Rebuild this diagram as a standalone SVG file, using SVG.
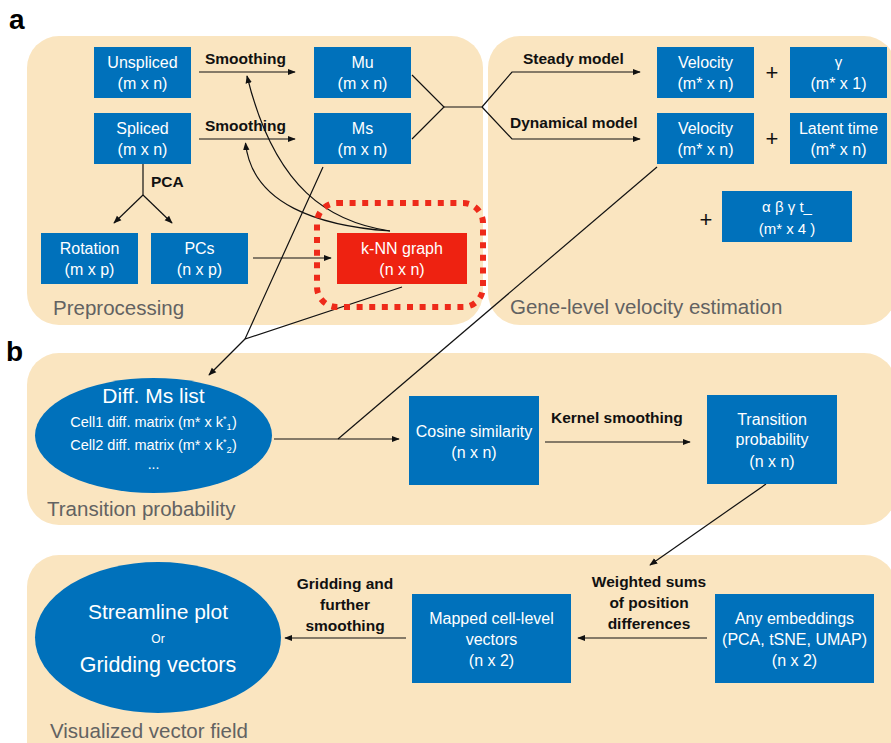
<svg xmlns="http://www.w3.org/2000/svg" width="891" height="743" viewBox="0 0 891 743">
<style>
.panel{fill:#FAE5C0;}
.box{fill:#0071BB;}
.bt{font-family:"Liberation Sans",Arial,sans-serif;font-size:16px;fill:#fff;text-anchor:middle;}
.lbl{font-family:"Liberation Sans",Arial,sans-serif;font-size:15.5px;font-weight:bold;fill:#111;}
.ptitle{font-family:"Liberation Sans",Arial,sans-serif;font-size:20.5px;fill:#626262;}
.big{font-family:"Liberation Sans",Arial,sans-serif;font-size:28px;font-weight:bold;fill:#000;}
.plus{font-family:"Liberation Sans",Arial,sans-serif;font-size:22px;fill:#111;text-anchor:middle;}
.ln{fill:none;stroke:#111;stroke-width:1.2;}
.arr{fill:none;stroke:#111;stroke-width:1.2;marker-end:url(#ah);}
</style>
<defs>
<marker id="ah" viewBox="0 0 10 10" refX="9" refY="5" markerWidth="8" markerHeight="8" markerUnits="userSpaceOnUse" orient="auto">
<path d="M0,1 L10,5 L0,9 Z" fill="#111"/>
</marker>
</defs>
<rect width="891" height="743" fill="#fff"/>

<!-- panels -->
<g id="panel-preprocessing">
<rect class="panel" x="27" y="36" width="456" height="289" rx="32"/>
<text class="ptitle" x="53" y="315">Preprocessing</text>
</g>
<g id="panel-gene">
<rect class="panel" x="488" y="36" width="408" height="289" rx="32"/>
<text class="ptitle" x="510" y="314">Gene-level velocity estimation</text>
</g>
<g id="panel-transition">
<rect class="panel" x="27" y="353" width="869" height="172" rx="32"/>
<text class="ptitle" x="47" y="516">Transition probability</text>
</g>
<g id="panel-visualized">
<rect class="panel" x="27" y="555" width="869" height="220" rx="32"/>
<text class="ptitle" x="50" y="738">Visualized vector field</text>
</g>
<text class="big" x="9" y="29">a</text>
<text class="big" x="6" y="361">b</text>

<!-- connectors -->
<g id="connectors">
<line class="arr" x1="199" y1="72" x2="295" y2="72"/>
<line class="arr" x1="199" y1="139" x2="295" y2="139"/>
<polyline class="ln" points="412,75 444,107 412,139"/>
<line class="ln" x1="444" y1="107" x2="482" y2="107"/>
<polyline class="arr" points="482,107 512,72 640,72"/>
<polyline class="arr" points="482,107 512,139 640,139"/>
<line class="ln" x1="143" y1="164" x2="143" y2="195"/>
<line class="arr" x1="143" y1="195" x2="114" y2="223"/>
<line class="arr" x1="143" y1="195" x2="172" y2="223"/>
<line class="arr" x1="253" y1="258" x2="331" y2="258"/>
<path class="arr" d="M390,231 C330,222 275,190 247,76"/>
<path class="arr" d="M390,231 C320,226 252,205 245.5,143"/>
<polyline class="ln" points="323,167 245,339 402,287"/>
<line class="arr" x1="245" y1="339" x2="209" y2="375"/>
<line class="arr" x1="274" y1="439" x2="399" y2="439"/>
<line class="ln" x1="657" y1="167" x2="338" y2="439"/>
<line class="arr" x1="545" y1="442" x2="690" y2="442"/>
<line class="arr" x1="766" y1="484" x2="650" y2="565"/>
<line class="arr" x1="707" y1="638" x2="578" y2="638"/>
<line class="arr" x1="406" y1="638" x2="285" y2="638"/>
</g>

<!-- edge labels -->
<g id="edge-labels">
<text class="lbl" x="205" y="64">Smoothing</text>
<text class="lbl" x="205" y="131">Smoothing</text>
<text class="lbl" x="151" y="187">PCA</text>
<text class="lbl" x="523" y="64">Steady model</text>
<text class="lbl" x="510" y="128">Dynamical model</text>
<text class="lbl" x="551" y="423">Kernel smoothing</text>
<text class="lbl" text-anchor="middle" x="649" y="587">Weighted sums</text>
<text class="lbl" text-anchor="middle" x="649" y="608">of position</text>
<text class="lbl" text-anchor="middle" x="649" y="629">differences</text>
<text class="lbl" text-anchor="middle" x="345" y="589">Gridding and</text>
<text class="lbl" text-anchor="middle" x="345" y="610">further</text>
<text class="lbl" text-anchor="middle" x="345" y="631">smoothing</text>
</g>

<!-- nodes -->
<g id="unspliced"><rect class="box" x="94" y="47" width="97" height="51"/>
<text class="bt" x="142.5" y="68">Unspliced</text><text class="bt" x="142.5" y="89">(m x n)</text></g>
<g id="spliced"><rect class="box" x="94" y="113" width="97" height="51"/>
<text class="bt" x="142.5" y="134">Spliced</text><text class="bt" x="142.5" y="155">(m x n)</text></g>
<g id="mu"><rect class="box" x="314" y="47" width="97" height="51"/>
<text class="bt" x="362.5" y="68">Mu</text><text class="bt" x="362.5" y="89">(m x n)</text></g>
<g id="ms"><rect class="box" x="314" y="113" width="97" height="51"/>
<text class="bt" x="362.5" y="134">Ms</text><text class="bt" x="362.5" y="155">(m x n)</text></g>
<g id="rotation"><rect class="box" x="41" y="233" width="97" height="51"/>
<text class="bt" x="89.5" y="254">Rotation</text><text class="bt" x="89.5" y="275">(m x p)</text></g>
<g id="pcs"><rect class="box" x="151" y="233" width="97" height="51"/>
<text class="bt" x="199.5" y="254">PCs</text><text class="bt" x="199.5" y="275">(n x p)</text></g>
<g id="knn">
<rect x="317" y="203" width="166" height="104" rx="20" fill="none" stroke="#EE2A1A" stroke-width="6" stroke-dasharray="6 6.6"/>
<rect x="337" y="233" width="130" height="51" fill="#EE2211"/>
<text class="bt" x="402" y="254">k-NN graph</text><text class="bt" x="402" y="275">(n x n)</text></g>
<g id="velocity1"><rect class="box" x="657" y="47" width="97" height="51"/>
<text class="bt" x="705.5" y="68">Velocity</text><text class="bt" x="705.5" y="89">(m* x n)</text></g>
<g id="gamma"><rect class="box" x="790" y="47" width="97" height="51"/>
<text class="bt" x="838.5" y="67" style="font-size:15px">γ</text><text class="bt" x="838.5" y="89">(m* x 1)</text></g>
<g id="velocity2"><rect class="box" x="657" y="113" width="97" height="51"/>
<text class="bt" x="705.5" y="134">Velocity</text><text class="bt" x="705.5" y="155">(m* x n)</text></g>
<g id="latent"><rect class="box" x="790" y="113" width="97" height="51"/>
<text class="bt" x="838.5" y="134">Latent time</text><text class="bt" x="838.5" y="155">(m* x n)</text></g>
<g id="params"><rect class="box" x="722" y="191" width="130" height="51"/>
<text class="bt" x="787" y="212" style="font-size:15px">α β γ t_</text><text class="bt" x="787" y="234" style="font-size:15px">(m* x 4 )</text></g>
<text class="plus" x="772" y="80">+</text>
<text class="plus" x="772" y="146">+</text>
<text class="plus" x="706" y="227">+</text>
<g id="diffms"><ellipse class="box" cx="153.5" cy="435.5" rx="118.5" ry="57.5"/>
<text class="bt" x="153.5" y="403" style="font-size:21px">Diff. Ms list</text>
<text class="bt" x="153.5" y="427" style="font-size:14.5px">Cell1 diff. matrix  (m* x k<tspan style="font-size:9px" dy="-5">*</tspan><tspan style="font-size:9.5px" dy="8">1</tspan><tspan dy="-3">)</tspan></text>
<text class="bt" x="153.5" y="450" style="font-size:14.5px">Cell2 diff. matrix  (m* x k<tspan style="font-size:9px" dy="-5">*</tspan><tspan style="font-size:9.5px" dy="8">2</tspan><tspan dy="-3">)</tspan></text>
<text class="bt" x="153.5" y="469" style="font-size:14px">...</text></g>
<g id="cosine"><rect class="box" x="409" y="396" width="130" height="89"/>
<text class="bt" x="474" y="437">Cosine similarity</text><text class="bt" x="474" y="458">(n x n)</text></g>
<g id="transprob"><rect class="box" x="707" y="395" width="130" height="89"/>
<text class="bt" x="772" y="425">Transition</text><text class="bt" x="772" y="445">probability</text><text class="bt" x="772" y="467">(n x n)</text></g>
<g id="anyemb"><rect class="box" x="715" y="594" width="159" height="89"/>
<text class="bt" x="794.5" y="624">Any embeddings</text><text class="bt" x="794.5" y="645">(PCA, tSNE, UMAP)</text><text class="bt" x="794.5" y="666">(n x 2)</text></g>
<g id="mapped"><rect class="box" x="412" y="594" width="159" height="89"/>
<text class="bt" x="491.5" y="624">Mapped cell-level</text><text class="bt" x="491.5" y="645">vectors</text><text class="bt" x="491.5" y="666">(n x 2)</text></g>
<g id="streamline"><ellipse class="box" cx="158" cy="637.5" rx="123" ry="75.5"/>
<text class="bt" x="158" y="619" style="font-size:21px">Streamline plot</text>
<text class="bt" x="158" y="643" style="font-size:12px">Or</text>
<text class="bt" x="158" y="672" style="font-size:21.5px">Gridding vectors</text></g>
</svg>
